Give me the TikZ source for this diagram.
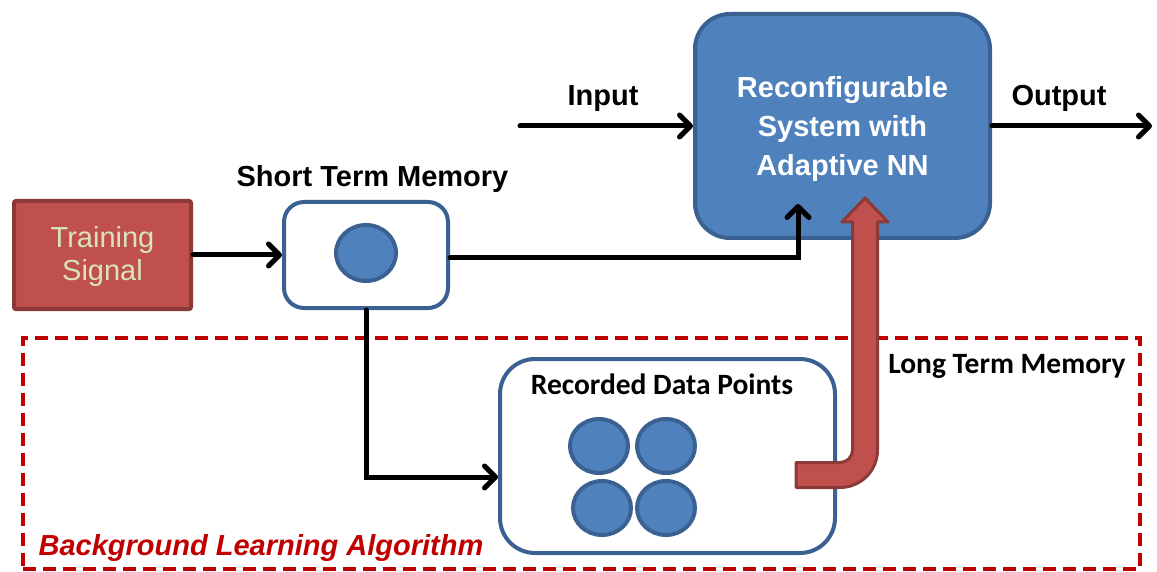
\documentclass[tikz,border=0pt]{standalone}
\usepackage{fontspec}
\setmainfont{Liberation Sans}
\newfontfamily\calibri{Carlito}
\usetikzlibrary{arrows.meta,shapes.geometric}
\definecolor{boxblue}{HTML}{4F81BD}
\definecolor{edgeblue}{HTML}{3A6191}
\definecolor{boxred}{HTML}{C0504D}
\definecolor{edgered}{HTML}{8C3A38}
\definecolor{paletext}{HTML}{D7E4BD}
\definecolor{dashred}{HTML}{C00000}
\tikzset{
  conn/.style={draw=black, line width=5pt, line cap=round, line join=miter,
    -{Straight Barb[length=11pt,width=22pt,line cap=round,line join=round]}},
  bluebox/.style={draw=edgeblue, line width=4pt, fill=boxblue, rounded corners=35pt},
  whitebox/.style={draw=edgeblue, line width=4pt, fill=white},
  redbox/.style={draw=edgered, line width=4pt, fill=boxred, rounded corners=2pt},
  dot/.style={ellipse, draw=edgeblue, line width=4pt, fill=boxblue, inner sep=0pt},
  bgbox/.style={draw=dashred, line width=4pt, dash pattern=on 13pt off 7pt},
  lbl/.style={font=\fontsize{29}{34}\selectfont\bfseries, anchor=base, inner sep=0pt},
  cal/.style={font=\calibri\fontsize{29.5}{34}\selectfont\bfseries, anchor=base, inner sep=0pt},
}
\begin{document}
\begin{tikzpicture}[x=1pt,y=-1pt]
\useasboundingbox (0,0) rectangle (1157,572);

% background learning region
\node[bgbox, minimum width=1117pt, minimum height=231pt] (bla) at (581.5,453.5) {};
\node[font=\fontsize{29}{34}\selectfont\bfseries\itshape, text=dashred, anchor=base, inner sep=0pt]
  (blatxt) at (261,555) {Background Learning Algorithm};
\node[cal] (ltm) at (1007,373) {Long Term Memory};

% main blocks
\node[redbox, minimum width=177pt, minimum height=108pt] (train) at (102.5,255) {};
\node[align=center, text=paletext, font=\fontsize{29}{33}\selectfont, inner sep=0pt]
  (traintxt) at (102.5,257) {Training\\Signal};
\node[whitebox, rounded corners=20pt, minimum width=164pt, minimum height=106pt] (stm) at (366,255) {};
\node[dot, minimum width=60pt, minimum height=56pt] (stmdot) at (366,253) {};
\node[lbl] (stmtxt) at (372.5,187) {Short Term Memory};

\node[bluebox, minimum width=295pt, minimum height=224pt] (big) at (842.5,126) {};
\node[align=center, text=white, font=\fontsize{29}{39}\selectfont\bfseries, inner sep=0pt]
  (bigtxt) at (842.5,129) {Reconfigurable\\System with\\Adaptive NN};

\node[whitebox, rounded corners=35pt, minimum width=335pt, minimum height=194pt] (rdp) at (667.5,456) {};
\node[cal] (rdptxt) at (662,394) {Recorded Data Points};
\node[dot, minimum width=58pt, minimum height=54pt] (d1) at (599,446) {};
\node[dot, minimum width=58pt, minimum height=54pt] (d2) at (666,446) {};
\node[dot, minimum width=58pt, minimum height=54pt] (d3) at (602,508) {};
\node[dot, minimum width=58pt, minimum height=54pt] (d4) at (666,508) {};

% labels on the system input and output
\node[lbl] (intxt) at (603,106) {Input};
\node[lbl] (outtxt) at (1059,106) {Output};

% connectors
\coordinate (inp) at (520,126);
\coordinate (outp) at (1152,126);
\coordinate (tipA) at (798,204);
\draw[conn] (inp) -- (big.west);
\draw[conn] (big.east) -- (outp);
\draw[conn] (train.east) -- (stm.west);
\draw[conn] ([yshift=-3pt]stm.east) -| (tipA);
\draw[conn] (stm.south) |- ([yshift=-21pt]rdp.west);

% long term memory transfer arrow
\draw[draw=edgered, fill=boxred, line width=3pt, line join=round]
  (796,462.5) -- (840,462.5) arc[start angle=90, end angle=0, radius=12.5]
  -- (852.5,222) -- (842,222) -- (865,198) -- (888,222) -- (877.5,222)
  -- (877.5,450) arc[start angle=0, end angle=90, radius=37.5]
  -- (796,487.5) -- cycle;
\end{tikzpicture}
\end{document}
